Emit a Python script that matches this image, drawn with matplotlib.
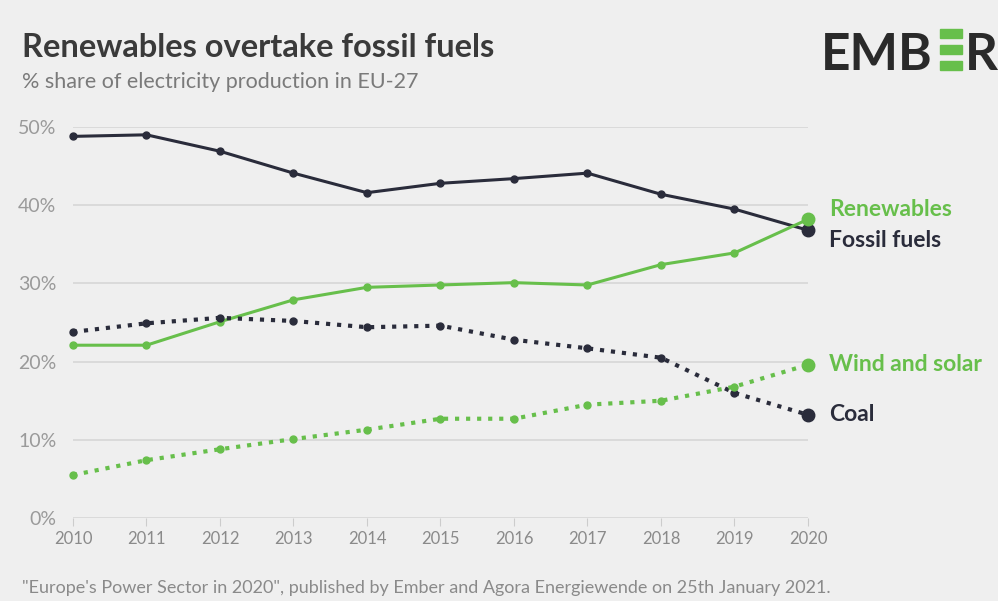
import matplotlib.pyplot as plt
import matplotlib.patches as patches

plt.rcParams['font.family'] = ['Lato', 'DejaVu Sans']

years = [2010, 2011, 2012, 2013, 2014, 2015, 2016, 2017, 2018, 2019, 2020]
fossil = [48.8, 49.0, 46.9, 44.1, 41.6, 42.8, 43.4, 44.1, 41.4, 39.5, 36.8]
renewables = [22.1, 22.1, 25.1, 27.9, 29.5, 29.8, 30.1, 29.8, 32.4, 33.9, 38.2]
coal = [23.8, 24.9, 25.6, 25.2, 24.4, 24.6, 22.8, 21.7, 20.5, 16.0, 13.2]
wind_solar = [5.5, 7.4, 8.8, 10.1, 11.3, 12.7, 12.7, 14.5, 15.0, 16.8, 19.6]
y_ticks = [0, 10, 20, 30, 40, 50]

dark = '#2a2c3b'
green = '#67bf4b'
bg = '#efefef'

fig = plt.figure(figsize=(9.98, 6.01), dpi=100, facecolor=bg)
ax = fig.add_axes([0.0731, 0.138, 0.7365, 0.6507], facecolor=bg)

series = [
    (fossil, dark, '-', 'Fossil fuels', -1.3),
    (renewables, green, '-', 'Renewables', 1.2),
    (coal, dark, ':', 'Coal', 0),
    (wind_solar, green, ':', 'Wind and solar', 0),
]
for vals, col, ls, name, dy in series:
    lw = 2.2 if ls == '-' else 3
    ax.plot(years, vals, color=col, linestyle=ls, lw=lw, zorder=3, clip_on=False)
    ax.plot(years[:-1], vals[:-1], 'o', color=col, ms=5, zorder=4, clip_on=False)
    ax.plot(years[-1], vals[-1], 'o', color=col, ms=9, zorder=5, clip_on=False)
    ax.annotate(name, (years[-1], vals[-1] + dy), xytext=(15, 0), textcoords='offset points',
                va='center', ha='left', color=col, fontsize=16.5, fontweight='bold',
                annotation_clip=False)

ax.set_xlim(2010, 2020)
ax.set_ylim(0, 50)
ax.set_xticks(years)
ax.set_yticks(y_ticks)
ax.set_yticklabels([f'{t}%' for t in y_ticks])
ax.grid(axis='y', color='#d6d6d6', lw=1.2, zorder=0)
for s in ax.spines.values():
    s.set_visible(False)
ax.tick_params(axis='y', length=0, pad=12, labelsize=14, labelcolor='#9a9a9a')
ax.tick_params(axis='x', length=6, color='#cccccc', pad=3, labelsize=12, labelcolor='#8a8a8a')

fig.text(0.022, 0.905, 'Renewables overtake fossil fuels', fontsize=23.5, fontweight='bold',
         color='#3a3a3a', va='baseline')
fig.text(0.022, 0.853, '% share of electricity production in EU-27', fontsize=15.5,
         color='#7a7a7a', va='baseline')
fig.text(0.022, 0.014, '"Europe\'s Power Sector in 2020", published by Ember and Agora Energiewende on 25th January 2021.',
         fontsize=13, color='#8a8a8a', va='baseline')

# logo
fig.text(0.823, 0.884, 'EMB', fontsize=37, fontweight='bold', color='#2a2a2a', va='baseline')
for i in range(3):
    fig.add_artist(patches.Rectangle((0.942, 0.884 + i * 0.0265), 0.022, 0.0145,
                                     transform=fig.transFigure, color=green))
fig.text(0.967, 0.884, 'R', fontsize=37, fontweight='bold', color='#2a2a2a', va='baseline')

fig.savefig('out.png', dpi=100, facecolor=bg)
